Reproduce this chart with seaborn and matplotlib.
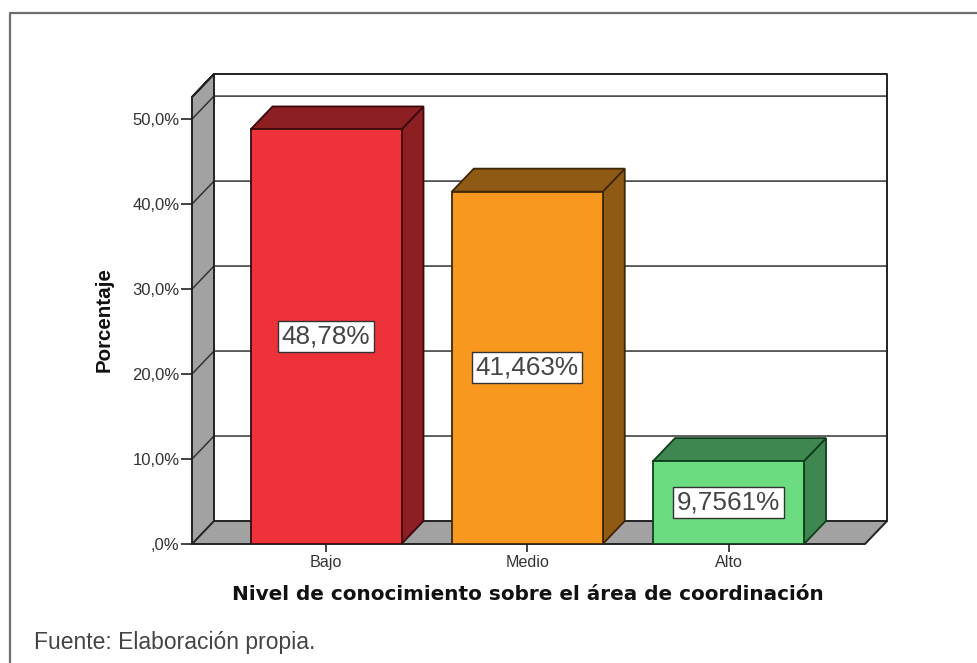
#!/usr/bin/env python
# coding: utf-8

#bar chart with a fake 3D box look (SPSS style)
#side and top faces are worked out from the bars seaborn draws

import matplotlib
matplotlib.use("Agg")
import matplotlib.pyplot as plt
from matplotlib.lines import Line2D
import seaborn as sns

niveles = ["Bajo", "Medio", "Alto"]
porcentajes = [48.78, 41.463, 9.7561]
etiquetas = ["48,78%", "41,463%", "9,7561%"]
yticks = [0, 10, 20, 30, 40, 50]
ytick_labels = [",0%", "10,0%", "20,0%", "30,0%", "40,0%", "50,0%"]
colores = ["#ee323a", "#f8981e", "#6cdc80"]
colores_oscuros = ["#8b1f22", "#8f5a14", "#3f8750"]
bordes = ["#3a0a0c", "#3e2606", "#0f3d1b"]

W, H = 978, 663
LEFT, RIGHT, BOTTOM, TOP = 192, 865, 544, 97

sns.set_style("white")
plt.rcParams['font.family'] = ['Liberation Sans', 'DejaVu Sans']

fig = plt.figure(figsize=(W / 100, H / 100), dpi=100, facecolor="white")
ax = fig.add_axes([LEFT / W, 1 - BOTTOM / H, (RIGHT - LEFT) / W, (BOTTOM - TOP) / H])
ax.patch.set_visible(False)

sns.barplot(x=niveles, y=porcentajes, hue=niveles, palette=colores, order=niveles,
            width=0.75, legend=False, errorbar=None, ax=ax, zorder=5,
            saturation=1, edgecolor="#222222", linewidth=1.3)
ax.set_xlim(-0.666, 2.678)
ax.set_ylim(0, 52.6)
x0, x1 = ax.get_xlim()
y0, y1 = ax.get_ylim()

# depth of the box in data units
dx = 22 / ((RIGHT - LEFT) / (x1 - x0))
dy = 23 / ((BOTTOM - TOP) / (y1 - y0))

linea = "#222222"
gris = "#a2a2a2"

# walls and floor
ax.fill([x0, x0 + dx, x0 + dx, x0], [y0, y0 + dy, y1 + dy, y1], color=gris, zorder=1, clip_on=False, lw=0)
ax.fill([x0, x1, x1 + dx, x0 + dx], [y0, y0, y0 + dy, y0 + dy], color=gris, zorder=1, clip_on=False, lw=0)
ax.plot([x0, x0 + dx, x1 + dx, x1 + dx, x1, x0, x0, x0 + dx, x0 + dx],
        [y1, y1 + dy, y1 + dy, y0 + dy, y0, y0, y1, y1 + dy, y0 + dy],
        color=linea, lw=1.4, zorder=3, clip_on=False)
ax.plot([x0, x0 + dx, x1 + dx], [y0, y0 + dy, y0 + dy], color=linea, lw=1.4, zorder=3, clip_on=False)

# gridlines on the back wall, running down the left wall
for t in yticks[1:]:
    ax.plot([x0, x0 + dx, x1 + dx], [t, t + dy, t + dy], color="#333333", lw=1.1, zorder=2, clip_on=False)

# side and top faces of every bar
for bar, oscuro, borde in zip(ax.patches, colores_oscuros, bordes):
    bx0, bx1 = bar.get_x(), bar.get_x() + bar.get_width()
    h = bar.get_height()
    ax.fill([bx1, bx1 + dx, bx1 + dx, bx1], [0, dy, h + dy, h], facecolor=oscuro, edgecolor=borde,
            lw=1.3, zorder=4, clip_on=False)
    ax.fill([bx0, bx1, bx1 + dx, bx0 + dx], [h, h, h + dy, h + dy], facecolor=oscuro, edgecolor=borde,
            lw=1.3, zorder=4, clip_on=False)
    bar.set_edgecolor(borde)

for cont, txt in zip(ax.containers, etiquetas):
    ax.bar_label(cont, labels=[txt], label_type="center", fontsize=18.8, color="#444444", zorder=6,
                 bbox=dict(boxstyle="square,pad=0.14", facecolor="white", edgecolor="#333333", lw=1))

ax.set_yticks(yticks, ytick_labels)
ax.tick_params(axis="y", length=8, width=1.2, color=linea, labelsize=12, pad=1, left=True, labelcolor="#333333")
ax.tick_params(axis="x", length=6, width=1.2, color=linea, labelsize=11.6, pad=2, bottom=True, labelcolor="#333333")
sns.despine(ax=ax, left=True, bottom=True)

fig.text(104 / W, 1 - 320 / H, "Porcentaje", rotation=90, ha="center", va="center",
         fontsize=14.8, fontweight="bold", color="#111111")
fig.text(527.5 / W, 1 - 594 / H, "Nivel de conocimiento sobre el área de coordinación", ha="center", va="center",
         fontsize=14.4, fontweight="bold", color="#111111", family="DejaVu Sans")
fig.text(34 / W, 1 - 643 / H, "Fuente: Elaboración propia.", ha="left", va="center",
         fontsize=16.5, color="#444444")

# outer frame, only left and top
fig.add_artist(Line2D([10 / W, 10 / W, 1], [0, 1 - 13 / H, 1 - 13 / H], color="#6e6e6e", lw=1.6))

plt.savefig("out.png", dpi=100)
